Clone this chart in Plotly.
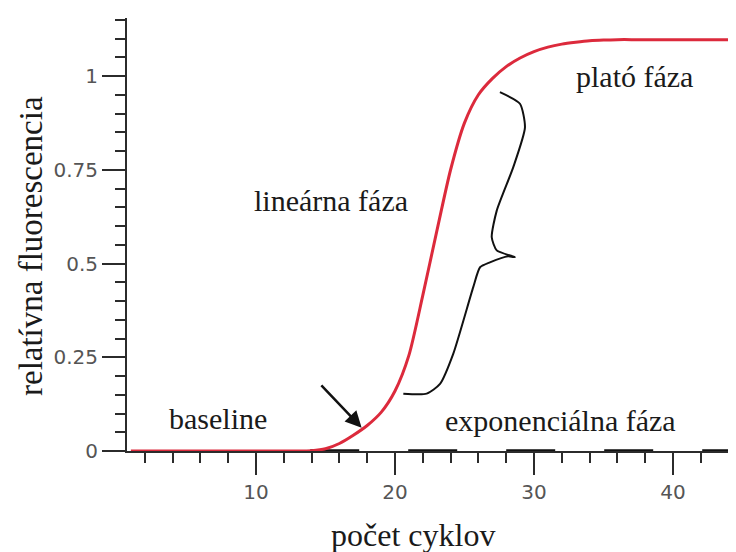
import plotly.graph_objects as go

# ---- data ----
cycles = list(range(1, 46))
fluorescence = [0, 0, 0, 0, 0, 0, 0, 0, 0, 0,
                0, 0, 0, 0.001, 0.006, 0.02, 0.042, 0.068, 0.103, 0.16,
                0.255, 0.415, 0.585, 0.75, 0.875, 0.95, 0.993, 1.025, 1.048, 1.065,
                1.077, 1.085, 1.09, 1.094, 1.096, 1.097, 1.097, 1.097, 1.097, 1.097,
                1.097, 1.097, 1.097, 1.097, 1.097]

baseline_x = [13.9, 44.6]
baseline_y = [0, 0]

brace_x = [27.55, 28.99, 29.35, 28.51, 27.32, 26.96, 27.32, 28.63, 28.13, 26.83, 26.12, 25.63, 24.19, 23.24, 22.28, 20.60]
brace_y = [0.957, 0.926, 0.863, 0.757, 0.641, 0.570, 0.535, 0.517, 0.519, 0.503, 0.490, 0.437, 0.259, 0.179, 0.153, 0.153]

x_major_ticks = [10, 20, 30, 40]
x_tick_labels = ["10", "20", "30", "40"]
y_major_ticks = [0, 0.25, 0.5, 0.75, 1]
y_tick_labels = ["0", "0.25", "0.5", "0.75", "1"]

phase_labels = ["baseline", "lineárna fáza", "plató fáza", "exponenciálna fáza"]
phase_x = [7.27, 15.4, 37.2, 31.9]
phase_y = [0.087, 0.668, 0.998, 0.081]

x_title = "počet cyklov"
y_title = "relatívna fluorescencia"

serif = "Liberation Serif, Times New Roman, serif"
axis_col = "#2b2b2b"

# the page body has an 8px margin; the figure is sized so that it fills the window
PAGE_OFF = 8
FIG_W, FIG_H = 736 - PAGE_OFF, 552 - PAGE_OFF
M_L, M_T, M_B, M_R = 127 - PAGE_OFF, 18 - PAGE_OFF, 101, 0
PLOT_W = FIG_W - M_L - M_R
PLOT_H = FIG_H - M_T - M_B

fig = go.Figure()

fig.add_trace(go.Scatter(x=baseline_x, y=baseline_y, mode="lines",
                         line=dict(color="#111111", width=3.5, dash="49px,49px"),
                         hoverinfo="skip", showlegend=False, cliponaxis=False))

fig.add_trace(go.Scatter(x=cycles, y=fluorescence, mode="lines",
                         line=dict(color="#dc2a3c", width=3, shape="spline", smoothing=0.7),
                         showlegend=False))

fig.add_trace(go.Scatter(x=brace_x, y=brace_y, mode="lines",
                         line=dict(color="#111111", width=2, shape="spline", smoothing=0.6),
                         hoverinfo="skip", showlegend=False))

annotations = []
for t, xx, yy in zip(phase_labels, phase_x, phase_y):
    annotations.append(dict(x=xx, y=yy, xref="x", yref="y", text=t, showarrow=False,
                            xanchor="center", yanchor="middle",
                            font=dict(family=serif, size=30, color="#1a1a1a")))

# arrow toward the curve
annotations.append(dict(x=17.6, y=0.062, xref="x", yref="y",
                        ax=14.6, ay=0.179, axref="x", ayref="y",
                        text="", showarrow=True, arrowhead=2, arrowsize=1.3,
                        arrowwidth=2.5, arrowcolor="#111111"))

# axis titles (placed in pixels of the reference)
annotations.append(dict(x=(413 - 127) / PLOT_W, y=-(535 - 451) / PLOT_H,
                        xref="paper", yref="paper", xanchor="center", yanchor="middle",
                        text=x_title, showarrow=False,
                        font=dict(family=serif, size=32, color="#1a1a1a")))
annotations.append(dict(x=-(127 - 31) / PLOT_W, y=(451 - 246) / PLOT_H,
                        xref="paper", yref="paper", xanchor="center", yanchor="middle",
                        text=y_title, showarrow=False, textangle=-90,
                        font=dict(family=serif, size=33, color="#1a1a1a")))

fig.update_layout(
    width=FIG_W, height=FIG_H,
    margin=dict(l=M_L, r=M_R, t=M_T, b=M_B, pad=0),
    paper_bgcolor="white", plot_bgcolor="white",
    showlegend=False,
    annotations=annotations,
)

fig.update_xaxes(range=[0.72, 0.72 + PLOT_W / 13.9], showgrid=False, zeroline=False,
                 showline=True, linecolor=axis_col, linewidth=2,
                 tickmode="array", tickvals=x_major_ticks, ticktext=x_tick_labels,
                 ticks="outside", ticklen=22, tickwidth=1.5, tickcolor=axis_col,
                 tickfont=dict(family="DejaVu Sans", size=20, color="#555555"),
                 minor=dict(dtick=2, tick0=0, ticks="outside", ticklen=10,
                            tickwidth=1.5, tickcolor=axis_col))
fig.update_yaxes(range=[0, PLOT_H / 375], showgrid=False, zeroline=False,
                 showline=True, linecolor=axis_col, linewidth=2,
                 tickmode="array", tickvals=y_major_ticks, ticktext=y_tick_labels,
                 ticks="outside", ticklen=23, tickwidth=1.5, tickcolor=axis_col,
                 tickfont=dict(family="DejaVu Sans", size=20, color="#555555"),
                 minor=dict(dtick=0.05, tick0=0, ticks="outside", ticklen=10,
                            tickwidth=1.5, tickcolor=axis_col))

fig.write_html("out.html")
